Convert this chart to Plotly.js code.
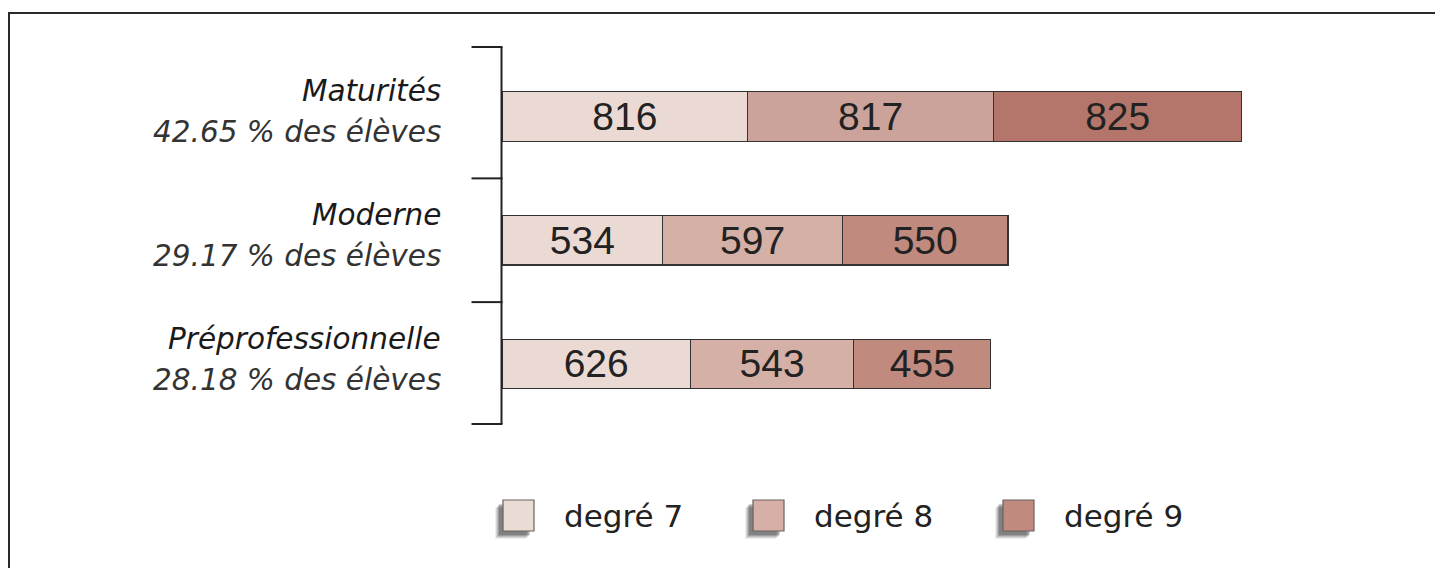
<!DOCTYPE html>
<html>
<head>
<meta charset="utf-8">
<script src="https://cdn.plot.ly/plotly-3.0.1.min.js"></script>
<style>
  html, body { margin: 0; padding: 0; background: #ffffff; }
  #chart { width: 1435px; height: 568px; }
</style>
</head>
<body>
<div id="chart"></div>
<script>
// ---- data ----
const categories = ['Maturités', 'Moderne', 'Préprofessionnelle'];
const shares = ['42.65', '29.17', '28.18'];
const yPos = [2, 1, 0];
const seriesNames = ['degré 7', 'degré 8', 'degré 9'];
const deg7 = [816, 534, 626];
const deg8 = [817, 597, 543];
const deg9 = [825, 550, 455];

// ---- styles ----
const colors7 = ['#ebdad4', '#ebdad4', '#ebdad4'];
const colors8 = ['#cca39a', '#d5b0a6', '#d5b0a6'];
const colors9 = ['#b4766a', '#c08a7f', '#c08a7f'];
const legendColors = ['#ebdbd5', '#d6b0a6', '#c08a7f'];

const W = 1435, H = 568;
const M = { l: 502, r: 30, t: 47, b: 144 };
const PW = W - M.l - M.r, PH = H - M.t - M.b;
const px2x = p => (p - M.l) / PW;
const px2y = p => (H - M.b - p) / PH;

function barTrace(name, vals, cols) {
  return {
    type: 'bar', orientation: 'h', name: name,
    x: vals, y: yPos, width: 0.4,
    marker: { color: cols, line: { color: '#333333', width: 1.2 } },
    text: vals.map(String), textposition: 'inside', insidetextanchor: 'middle',
    constraintext: 'none',
    textfont: { family: 'Liberation Sans, Arial, sans-serif', size: 39, color: '#222222' },
    hoverinfo: 'skip'
  };
}
const data = [
  barTrace(seriesNames[0], deg7, colors7),
  barTrace(seriesNames[1], deg8, colors8),
  barTrace(seriesNames[2], deg9, colors9)
];

const shapes = [];
// outer frame
shapes.push({ type: 'rect', xref: 'paper', yref: 'paper',
  x0: px2x(9), x1: px2x(1460), y0: px2y(13), y1: px2y(620),
  line: { color: '#2a2a2a', width: 2 }, fillcolor: 'rgba(0,0,0,0)' });
// bracket vertical
shapes.push({ type: 'line', xref: 'paper', yref: 'paper',
  x0: px2x(501.5), x1: px2x(501.5), y0: 0, y1: 1,
  line: { color: '#222222', width: 2 } });
// bracket ticks: ends and category boundaries
const tickY = [{ref: 'paper', v: 1}, {ref: 'paper', v: 0}];
for (let i = 0; i < yPos.length - 1; i++) tickY.push({ ref: 'y', v: (yPos[i] + yPos[i + 1]) / 2 });
tickY.forEach(t => shapes.push({ type: 'line', xref: 'paper', yref: t.ref,
  x0: px2x(471.5), x1: px2x(502.5), y0: t.v, y1: t.v,
  line: { color: '#222222', width: 2 } }));

const annotations = [];
categories.forEach((c, i) => {
  annotations.push({ xref: 'paper', yref: 'y', x: px2x(443), y: yPos[i], yshift: 25,
    xanchor: 'right', yanchor: 'middle', showarrow: false,
    text: '<i>' + c + '</i>',
    font: { family: 'DejaVu Sans, sans-serif', size: 29.5, color: '#1a1a1a' } });
  annotations.push({ xref: 'paper', yref: 'y', x: px2x(443), y: yPos[i], yshift: -16,
    xanchor: 'right', yanchor: 'middle', showarrow: false,
    text: '<i>' + shares[i] + ' % des élèves</i>',
    font: { family: 'DejaVu Sans, sans-serif', size: 29.5, color: '#333333' } });
});

// manual legend
const legX = [503, 753, 1003];
const sqW = 31, sqTop = 500, sqBot = 531;
seriesNames.forEach((s, i) => {
  const x0 = legX[i];
  // soft shadow
  [[8, 0.07], [7, 0.1], [6, 0.14], [5, 0.18], [4, 0.2]].forEach(([o, a]) => {
    shapes.push({ type: 'rect', xref: 'paper', yref: 'paper',
      x0: px2x(x0 - o), x1: px2x(x0 + sqW - o), y0: px2y(sqBot + o), y1: px2y(sqTop + o),
      line: { width: 0 }, fillcolor: 'rgba(20,20,20,' + a + ')' });
  });
  shapes.push({ type: 'rect', xref: 'paper', yref: 'paper',
    x0: px2x(x0), x1: px2x(x0 + sqW), y0: px2y(sqBot), y1: px2y(sqTop),
    line: { color: '#6a6060', width: 1.2 }, fillcolor: legendColors[i] });
  annotations.push({ xref: 'paper', yref: 'paper', x: px2x(x0 + 59), y: px2y(515.5),
    xanchor: 'left', yanchor: 'middle', showarrow: false, text: s,
    font: { family: 'DejaVu Sans, sans-serif', size: 31, color: '#222222' } });
});

const layout = {
  width: W, height: H,
  margin: M,
  barmode: 'stack',
  showlegend: false,
  paper_bgcolor: '#ffffff', plot_bgcolor: '#ffffff',
  xaxis: { range: [0, 3000], visible: false, fixedrange: true },
  yaxis: { range: [-0.485, 2.5616], visible: false, fixedrange: true },
  shapes: shapes,
  annotations: annotations
};

Plotly.newPlot('chart', data, layout, { displayModeBar: false, staticPlot: true });
</script>
</body>
</html>
